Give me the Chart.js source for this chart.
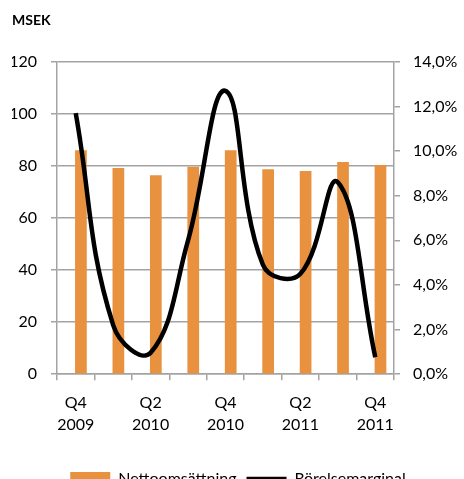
<!DOCTYPE html>
<html>
<head>
<meta charset="utf-8">
<script src="https://cdn.jsdelivr.net/npm/chart.js@4/dist/chart.umd.min.js"></script>
<style>
  html, body { margin: 0; padding: 0; background: #fff; overflow: hidden; }
  #wrap { width: 464px; height: 497px; position: relative; }
</style>
</head>
<body>
<div id="wrap"><canvas id="c"></canvas></div>
<script>
const categories = [['Q4','2009'], '', ['Q2','2010'], '', ['Q4','2010'], '', ['Q2','2011'], '', ['Q4','2011']];
const nettoomsattning = [86.0, 79.2, 76.4, 79.7, 86.0, 78.7, 78.1, 81.5, 80.4];
const rorelsemarginal = [11.7, 2.2, 0.96, 6.0, 12.7, 4.9, 4.5, 8.6, 0.76];
const leftTicks = [0, 20, 40, 60, 80, 100, 120];
const rightTicks = [0, 2, 4, 6, 8, 10, 12, 14];

const FONT = 'Lato, "Open Sans", sans-serif';
const GRID = '#a3a3a3';

new Chart(document.getElementById('c'), {
  type: 'bar',
  data: {
    labels: categories,
    datasets: [
      { label: '_ghost', data: categories.map(() => null), backgroundColor: 'rgba(0,0,0,0)', yAxisID: 'y', order: 2 },
      { label: 'Nettoomsättning', data: nettoomsattning, backgroundColor: '#E8913F', borderWidth: 0, yAxisID: 'y', order: 2 },
      { type: 'line', label: 'Rörelsemarginal', data: rorelsemarginal, borderColor: '#000', backgroundColor: '#000',
        borderWidth: 4.5, pointRadius: 0, tension: 0.42, yAxisID: 'y2', order: 1, borderCapStyle: 'butt' }
    ]
  },
  options: {
    responsive: true,
    maintainAspectRatio: false,
    animation: false,
    devicePixelRatio: 1,
    datasets: { bar: { categoryPercentage: 0.556, barPercentage: 1.125 } },
    layout: { padding: { left: 12, right: 0, top: 0, bottom: 0 } },
    plugins: {
      tooltip: { enabled: false },
      title: {
        display: true, text: 'MSEK', align: 'start', color: '#000',
        font: { family: FONT, size: 14, weight: 'bold' },
        padding: { top: 12, bottom: 33 }
      },
      legend: {
        position: 'bottom',
        labels: {
          filter: (item) => item.text !== '_ghost',
          sort: (a, b) => a.datasetIndex - b.datasetIndex,
          usePointStyle: true,
          generateLabels: (chart) => {
            const items = Chart.defaults.plugins.legend.labels.generateLabels(chart);
            items.forEach(it => {
              if (it.text === 'Nettoomsättning') { it.pointStyle = 'rect'; it.lineWidth = 0; }
              if (it.text === 'Rörelsemarginal') { it.pointStyle = 'line'; it.lineWidth = 4.5; it.strokeStyle = '#000'; }
            });
            return items;
          },
          pointStyleWidth: 40,
          boxHeight: 14,
          color: '#000',
          padding: 10,
          font: { family: FONT, size: 16 }
        }
      }
    },
    scales: {
      x: {
        afterFit: (s) => { s.height += 14; },
        grid: { display: true, drawOnChartArea: false, color: GRID, lineWidth: 1.5, tickLength: 6, offset: true },
        border: { color: GRID, width: 1.5 },
        ticks: { color: '#000', autoSkip: false, maxRotation: 0, padding: 11, font: { family: FONT, size: 16, lineHeight: 1.4 } }
      },
      y: {
        position: 'left', min: 0, max: 120,
        afterBuildTicks: (s) => { s.ticks = leftTicks.map(v => ({ value: v })); },
        afterFit: (s) => { s.width = 45; },
        grid: { color: GRID, lineWidth: 1.5, tickLength: 6 },
        border: { color: GRID, width: 1.5 },
        ticks: { color: '#000', padding: 14, font: { family: FONT, size: 16 } }
      },
      y2: {
        position: 'right', min: 0, max: 14,
        afterBuildTicks: (s) => { s.ticks = rightTicks.map(v => ({ value: v })); },
        afterFit: (s) => { s.width = 70; },
        grid: { drawOnChartArea: false, color: GRID, lineWidth: 1.5, tickLength: 6 },
        border: { color: GRID, width: 1.5 },
        ticks: { color: '#000', padding: 13, font: { family: FONT, size: 16 },
          callback: (v) => v.toFixed(1).replace('.', ',') + '%' }
      }
    }
  }
});
</script>
</body>
</html>
